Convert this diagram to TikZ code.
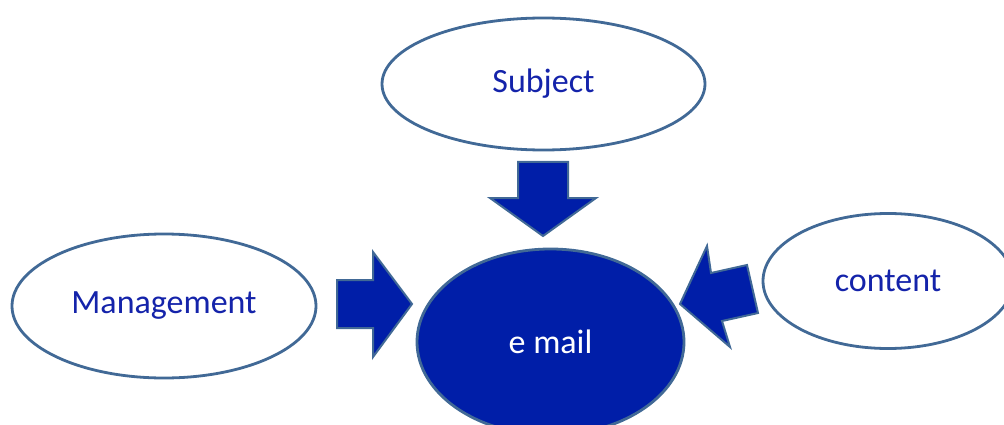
\documentclass[tikz,border=0pt]{standalone}
\usepackage{fontspec}
\setmainfont{Carlito}
\usetikzlibrary{shapes.geometric}
\definecolor{darkfill}{RGB}{0,30,168}
\definecolor{edgeblue}{RGB}{65,105,150}
\definecolor{txtblue}{RGB}{20,35,170}
\tikzset{
  oval/.style={ellipse, draw=edgeblue, line width=2.8pt, fill=white, inner sep=0pt,
    text=txtblue, font=\fontsize{34}{40}\selectfont},
  hub/.style={ellipse, draw=edgeblue, line width=2.8pt, fill=darkfill, inner sep=0pt,
    text=white, font=\fontsize{34}{40}\selectfont},
  blockarrow/.style={draw=edgeblue, line width=2pt, fill=darkfill, line join=miter}
}
\begin{document}
\begin{tikzpicture}[x=1pt,y=-1pt]
\useasboundingbox (0,0) rectangle (1004,425);
\begin{scope}
\clip (0,0) rectangle (1004,425);
\node[oval, minimum width=323pt, minimum height=132pt] (subject) at (543.5,84) {Subject};
\node[oval, minimum width=304pt, minimum height=144pt] (mgmt) at (164,306) {Management};
\node[oval, minimum width=250pt, minimum height=135pt] (content) at (888,281) {content};
\node[hub, minimum width=267pt, minimum height=186pt] (email) at (550.5,342) {e mail};
% top arrow
\draw[blockarrow] (518,162) -- (568,162) -- (568,198) -- (596,198) -- (543,236)
  -- (490,198) -- (518,198) -- cycle;
% left arrow
\draw[blockarrow] (337,280) -- (373,280) -- (373,252) -- (412,304) -- (373,357)
  -- (373,328) -- (337,328) -- cycle;
% right arrow (tilted)
\draw[blockarrow] (680,304) -- (707,246) -- (711,273) -- (747,265) -- (758,313)
  -- (722,321) -- (730,347) -- cycle;
\end{scope}
\end{tikzpicture}
\end{document}
